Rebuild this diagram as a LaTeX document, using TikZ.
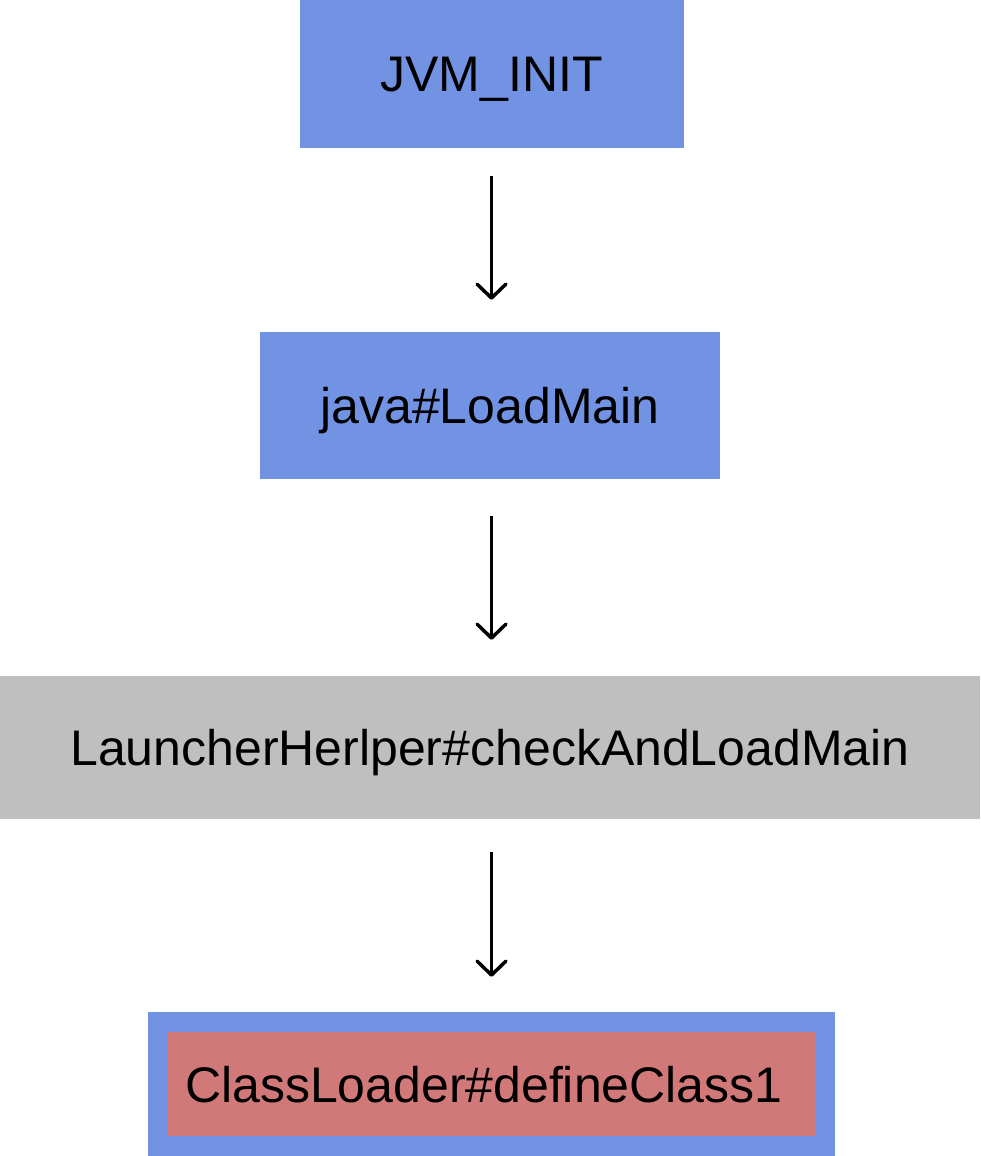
\documentclass[tikz,border=0pt]{standalone}
\usepackage{fontspec}
\setmainfont{Liberation Sans}
\usetikzlibrary{arrows.meta}
\definecolor{boxblue}{RGB}{114,147,227}
\definecolor{boxgray}{RGB}{191,191,191}
\definecolor{boxred}{RGB}{209,120,120}
\begin{document}
\begin{tikzpicture}[x=1pt,y=-1pt,
  every node/.style={font=\fontsize{50}{60}\selectfont, text=black, text height=36pt, text depth=0pt},
  bluebox/.style={rectangle, fill=boxblue, draw=none, inner sep=0pt},
  graybox/.style={rectangle, fill=boxgray, draw=none, inner sep=0pt},
  redbox/.style={rectangle, fill=boxred, draw=none, inner ysep=0pt, inner xsep=17pt, align=left},
  flowarrow/.style={line width=3.5pt, -{Straight Barb[length=14pt,width=29pt,line join=round,line cap=round]}}
]
\useasboundingbox (0,0) rectangle (980,1156);
\node[bluebox, minimum width=384pt, minimum height=148pt] (jvm) at (491.5,74) {JVM\_INIT};
\node[bluebox, minimum width=460pt, minimum height=147pt] (load) at (490,405.5) {java\#LoadMain};
\node[graybox, minimum width=980pt, minimum height=143pt] (launcher) at (490,747.5) {LauncherHerlper\#checkAndLoadMain};
\node[bluebox, minimum width=687pt, minimum height=144pt] (outer) at (491.5,1084) {};
\node[redbox, text width=613pt, minimum height=104pt] (cls) at (491.5,1084) {ClassLoader\#defineClass1};
\draw[flowarrow, shorten <=28pt, shorten >=32pt] (jvm.south) -- (jvm.south |- load.north);
\draw[flowarrow, shorten <=37pt, shorten >=36pt] (jvm.south |- load.south) -- (jvm.south |- launcher.north);
\draw[flowarrow, shorten <=33pt, shorten >=35pt] (jvm.south |- launcher.south) -- (jvm.south |- outer.north);
\end{tikzpicture}
\end{document}
